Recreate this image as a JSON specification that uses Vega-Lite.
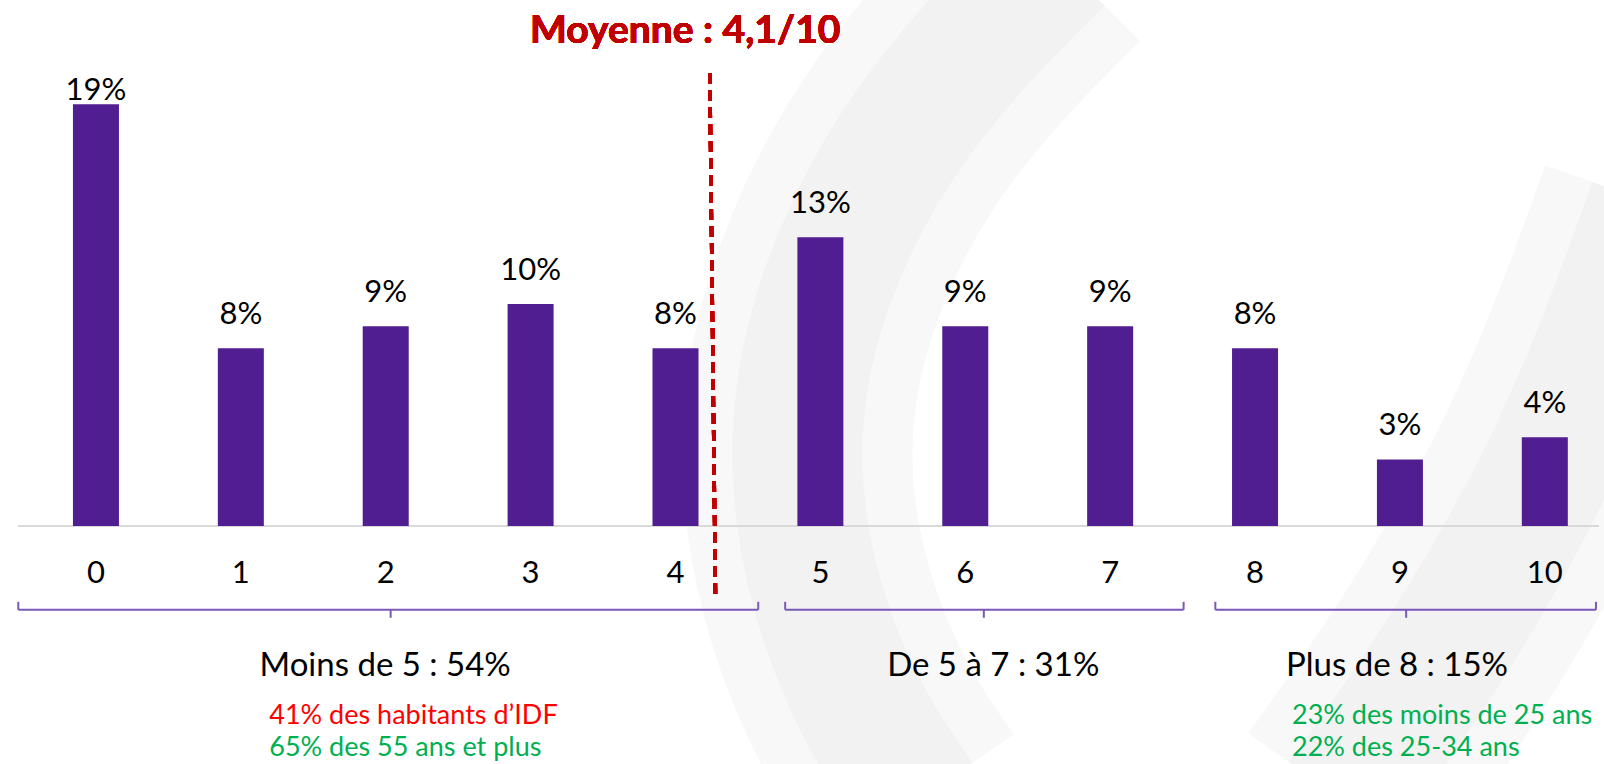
{
  "$schema": "https://vega.github.io/schema/vega-lite/v6.json",
  "width": 1591,
  "height": 764,
  "padding": {"left": 13, "top": 0, "right": 0, "bottom": 0},
  "autosize": {"type": "none"},
  "background": "white",
  "config": {"view": {"stroke": null}, "font": "Lato"},
  "datasets": {
    "scores": [
      {"score": 0, "pct": 19, "label": "19%"},
      {"score": 1, "pct": 8, "label": "8%"},
      {"score": 2, "pct": 9, "label": "9%"},
      {"score": 3, "pct": 10, "label": "10%"},
      {"score": 4, "pct": 8, "label": "8%"},
      {"score": 5, "pct": 13, "label": "13%"},
      {"score": 6, "pct": 9, "label": "9%"},
      {"score": 7, "pct": 9, "label": "9%"},
      {"score": 8, "pct": 8, "label": "8%"},
      {"score": 9, "pct": 3, "label": "3%"},
      {"score": 10, "pct": 4, "label": "4%"}
    ],
    "groups": [
      {"group": "Moins de 5 : 54%", "start": -0.536, "end": 4.571, "mid": 2.034, "center": 1.996},
      {"group": "De 5 à 7 : 31%", "start": 4.757, "end": 7.507, "mid": 6.128, "center": 6.193},
      {"group": "Plus de 8 : 15%", "start": 7.726, "end": 10.353, "mid": 9.043, "center": 8.98}
    ],
    "notes": [
      {"text": "41% des habitants d’IDF", "pos": 1.196, "line": 1, "kind": "red"},
      {"text": "65% des 55 ans et plus", "pos": 1.196, "line": 2, "kind": "green"},
      {"text": "23% des moins de 25 ans", "pos": 8.255, "line": 1, "kind": "green"},
      {"text": "22% des 25-34 ans", "pos": 8.255, "line": 2, "kind": "green"}
    ],
    "swoosh": [
      {"stroke": "left", "i": 0, "sx": 6.643, "sy": 25.5},
      {"stroke": "left", "i": 1, "sx": 5.545, "sy": 18.29},
      {"stroke": "left", "i": 2, "sx": 4.859, "sy": 8.83},
      {"stroke": "left", "i": 3, "sx": 4.791, "sy": 0.27},
      {"stroke": "left", "i": 4, "sx": 5.202, "sy": -7.84},
      {"stroke": "left", "i": 5, "sx": 5.683, "sy": -12.34},
      {"stroke": "right", "i": 0, "sx": 10.75, "sy": 14.5},
      {"stroke": "right", "i": 1, "sx": 10.2, "sy": 4.5},
      {"stroke": "right", "i": 2, "sx": 9.4, "sy": -5.0},
      {"stroke": "right", "i": 3, "sx": 8.6, "sy": -12.34}
    ]
  },
  "data": {"name": "scores"},
  "layer": [
    {
      "data": {"name": "swoosh"},
      "mark": {"type": "line", "color": "#f8f8f8", "strokeWidth": 230, "interpolate": "basis", "strokeCap": "butt"},
      "encoding": {
        "x": {"field": "sx", "type": "quantitative", "scale": {"domain": [-0.538, 10.374], "nice": false, "zero": false}, "axis": null},
        "y": {"field": "sy", "type": "quantitative", "scale": {"domain": [-10.72, 23.69], "nice": false, "zero": false}, "axis": null},
        "detail": {"field": "stroke"},
        "order": {"field": "i"}
      }
    },
    {
      "data": {"name": "swoosh"},
      "mark": {"type": "line", "color": "#f2f2f2", "strokeWidth": 130, "interpolate": "basis", "strokeCap": "butt"},
      "encoding": {
        "x": {"field": "sx", "type": "quantitative"},
        "y": {"field": "sy", "type": "quantitative"},
        "detail": {"field": "stroke"},
        "order": {"field": "i"}
      }
    },
    {
      "mark": {"type": "rule", "color": "#d9d9d9", "strokeWidth": 2},
      "encoding": {
        "x": {"datum": -0.538, "type": "quantitative"},
        "x2": {"datum": 10.374},
        "y": {"datum": 0, "type": "quantitative"}
      }
    },
    {
      "mark": {"type": "bar", "color": "#501E90", "width": 46},
      "encoding": {
        "x": {"field": "score", "type": "quantitative"},
        "y": {"field": "pct", "type": "quantitative"},
        "y2": {"datum": 0}
      }
    },
    {
      "transform": [{"filter": "datum.pct < 19"}],
      "mark": {"type": "text", "fontSize": 31, "color": "#000000", "baseline": "alphabetic", "align": "center", "dy": -24},
      "encoding": {
        "x": {"field": "score", "type": "quantitative"},
        "y": {"field": "pct", "type": "quantitative"},
        "text": {"field": "label"}
      }
    },
    {
      "transform": [{"filter": "datum.pct >= 19"}],
      "mark": {"type": "text", "fontSize": 31, "color": "#000000", "baseline": "alphabetic", "align": "center", "dy": -4.4},
      "encoding": {
        "x": {"field": "score", "type": "quantitative"},
        "y": {"field": "pct", "type": "quantitative"},
        "text": {"field": "label"}
      }
    },
    {
      "mark": {"type": "text", "fontSize": 31, "color": "#000000", "baseline": "alphabetic", "align": "center"},
      "encoding": {
        "x": {"field": "score", "type": "quantitative"},
        "y": {"datum": -2.55},
        "text": {"field": "score", "type": "quantitative"}
      }
    },
    {
      "mark": {"type": "rule", "color": "#C00000", "strokeWidth": 3.5, "strokeDash": [11, 6]},
      "encoding": {
        "x": {"datum": 4.237},
        "x2": {"datum": 4.276},
        "y": {"datum": 20.4},
        "y2": {"datum": -3.24}
      }
    },
    {
      "mark": {"type": "text", "fontSize": 39, "fontWeight": "bold", "color": "#C00000", "baseline": "alphabetic", "align": "center"},
      "encoding": {
        "x": {"datum": 4.067},
        "y": {"datum": 21.77},
        "text": {"value": "Moyenne : 4,1/10"}
      }
    },
    {
      "data": {"name": "groups"},
      "mark": {"type": "rule", "color": "#7B58B8", "strokeWidth": 2},
      "encoding": {
        "x": {"field": "start", "type": "quantitative"},
        "x2": {"field": "end"},
        "y": {"datum": -3.775}
      }
    },
    {
      "data": {"name": "groups"},
      "mark": {"type": "rule", "color": "#7B58B8", "strokeWidth": 2},
      "encoding": {
        "x": {"field": "start", "type": "quantitative"},
        "y": {"datum": -3.416},
        "y2": {"datum": -3.775}
      }
    },
    {
      "data": {"name": "groups"},
      "mark": {"type": "rule", "color": "#7B58B8", "strokeWidth": 2},
      "encoding": {
        "x": {"field": "end", "type": "quantitative"},
        "y": {"datum": -3.416},
        "y2": {"datum": -3.775}
      }
    },
    {
      "data": {"name": "groups"},
      "mark": {"type": "rule", "color": "#7B58B8", "strokeWidth": 2},
      "encoding": {
        "x": {"field": "mid", "type": "quantitative"},
        "y": {"datum": -3.775},
        "y2": {"datum": -4.135}
      }
    },
    {
      "data": {"name": "groups"},
      "mark": {"type": "text", "fontSize": 33, "color": "#000000", "baseline": "alphabetic", "align": "center"},
      "encoding": {
        "x": {"field": "center", "type": "quantitative"},
        "y": {"datum": -6.74},
        "text": {"field": "group"}
      }
    },
    {
      "data": {"name": "notes"},
      "transform": [{"filter": "datum.line == 1"}],
      "mark": {"type": "text", "fontSize": 27, "baseline": "alphabetic", "align": "left"},
      "encoding": {
        "x": {"field": "pos", "type": "quantitative"},
        "y": {"datum": -8.9},
        "text": {"field": "text"},
        "color": {"field": "kind", "type": "nominal", "scale": {"domain": ["red", "green"], "range": ["#FF0000", "#00B050"]}, "legend": null}
      }
    },
    {
      "data": {"name": "notes"},
      "transform": [{"filter": "datum.line == 2"}],
      "mark": {"type": "text", "fontSize": 27, "baseline": "alphabetic", "align": "left"},
      "encoding": {
        "x": {"field": "pos", "type": "quantitative"},
        "y": {"datum": -10.35},
        "text": {"field": "text"},
        "color": {"field": "kind", "type": "nominal", "scale": {"domain": ["red", "green"], "range": ["#FF0000", "#00B050"]}, "legend": null}
      }
    }
  ]
}
